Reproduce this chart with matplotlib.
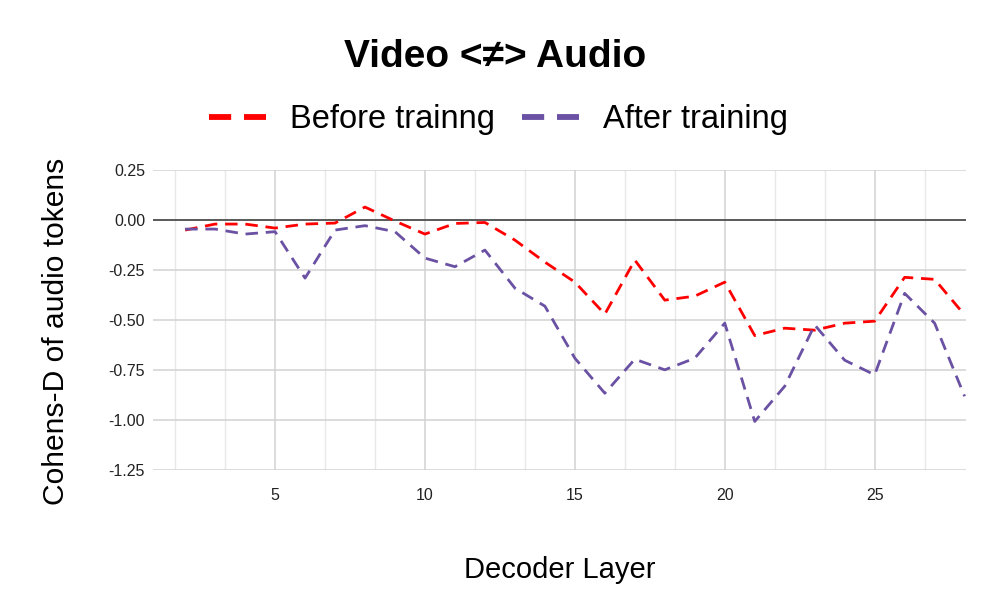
import matplotlib.pyplot as plt
from matplotlib.lines import Line2D
from matplotlib.ticker import MultipleLocator

plt.rcParams["font.family"] = ["Liberation Sans", "DejaVu Sans"]

# ---- Data ----
layers = list(range(2, 29))
before_training = [-0.05, -0.02, -0.02, -0.04, -0.02, -0.015, 0.065, -0.005, -0.07,
                   -0.017, -0.012, -0.10, -0.21, -0.31, -0.47, -0.20, -0.40, -0.38,
                   -0.31, -0.577, -0.54, -0.55, -0.515, -0.505, -0.286, -0.296, -0.474]
after_training = [-0.045, -0.045, -0.07, -0.058, -0.29, -0.05, -0.028, -0.058, -0.19,
                  -0.233, -0.15, -0.34, -0.43, -0.69, -0.865, -0.695, -0.748, -0.69,
                  -0.515, -1.006, -0.83, -0.524, -0.70, -0.773, -0.366, -0.515, -0.88]
series_labels = ["Before trainng", "After training"]
series_colors = ["#ff0000", "#6a51a3"]

fig = plt.figure(figsize=(9.97, 6.16), dpi=100)
ax = fig.add_axes([0.1535, 0.2365, 0.8155, 0.4875])

ax.plot(layers, before_training, color=series_colors[0], linestyle=(0, (4.5, 2.8)),
        linewidth=2.0, zorder=3)
ax.plot(layers, after_training, color=series_colors[1], linestyle=(0, (4.5, 2.8)),
        linewidth=2.0, zorder=3)
ax.axhline(0, color="#444444", linewidth=1.2, zorder=2)

# ---- Axes / grid ----
ax.set_xlim(0.93, 28.05)
ax.set_ylim(-1.25, 0.25)
ax.xaxis.set_major_locator(MultipleLocator(5))
ax.xaxis.set_minor_locator(MultipleLocator(5 / 3))
ax.yaxis.set_major_locator(MultipleLocator(0.25))
ax.grid(which="major", axis="both", color="#d2d2d2", linewidth=1.1)
ax.grid(which="minor", axis="x", color="#e8e8e8", linewidth=1.0)
ax.set_axisbelow(True)
for s in ax.spines.values():
    s.set_visible(False)
ax.tick_params(axis="both", which="both", length=0, labelsize=11.5, colors="#222222")
ax.tick_params(axis="y", pad=5.7)
ax.tick_params(axis="x", pad=12.4)
ax.yaxis.set_major_formatter(plt.FuncFormatter(lambda v, p: f"{v:.2f}"))

ax.set_xlabel("Decoder Layer", fontsize=21, labelpad=38.5)
ax.set_ylabel("Cohens-D of audio tokens", fontsize=21.6)
ax.yaxis.set_label_coords(-0.102, 0.463)

fig.text(0.497, 0.907, "Video <≠> Audio", ha="center", va="center",
         fontsize=28, fontweight="bold")

handles = [Line2D([], [], color=c, linestyle=(0, (3.8, 2.2)), linewidth=4.2)
           for c in series_colors]
fig.legend(handles, series_labels, loc="center", bbox_to_anchor=(0.5, 0.806),
           ncol=2, frameon=False, fontsize=23.5, handlelength=1.75,
           handletextpad=0.74, columnspacing=0.83)

fig.savefig("out.png", dpi=100)
